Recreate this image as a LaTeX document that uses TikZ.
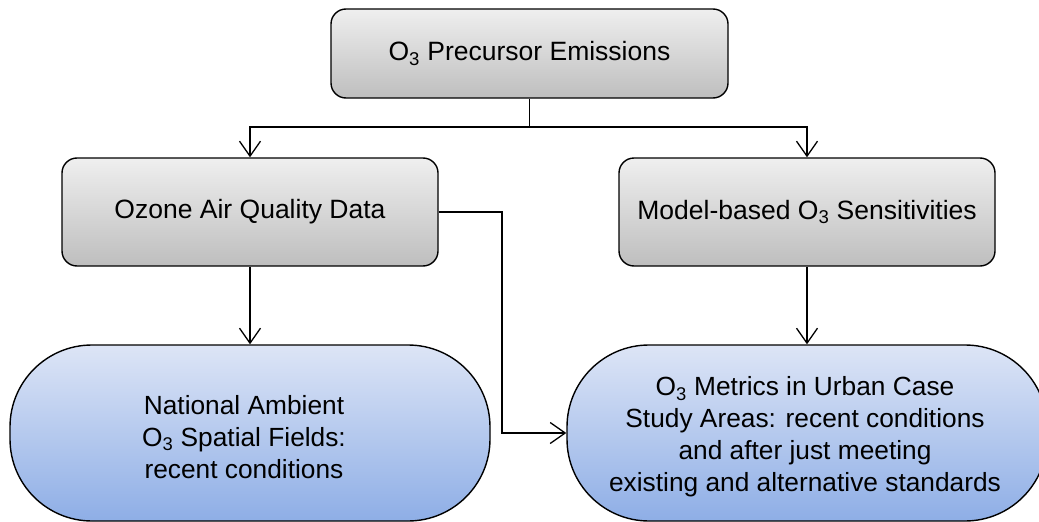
\documentclass[tikz,border=0pt]{standalone}
\usepackage{fontspec}
\setmainfont{Liberation Sans}
\usetikzlibrary{arrows.meta}
\definecolor{gtop}{HTML}{EFEFEF}
\definecolor{gbot}{HTML}{BEBEBE}
\definecolor{btop}{HTML}{DDE5F6}
\definecolor{bbot}{HTML}{8EAEE6}
\tikzset{
  graybox/.style={draw=black, line width=1.4pt, rounded corners=15pt,
    top color=gtop, bottom color=gbot, inner sep=0pt, align=center,
    font=\fontsize{26.5}{32}\selectfont},
  bluebox/.style={draw=black, line width=1.4pt, rounded corners=82pt,
    top color=btop, bottom color=bbot, inner sep=0pt},
  txt/.style={align=center, inner sep=0pt, font=\fontsize{26.3}{32}\selectfont},
  conn/.style={draw=black, line width=1.5pt},
  arr/.style={conn, -{Straight Barb[length=15pt,width=21pt,line width=1.3pt]}}
}
\begin{document}
\begin{tikzpicture}[x=1pt,y=-1pt]
\useasboundingbox (0,0) rectangle (1039,522);
\clip (0,0) rectangle (1039,522);
\node[graybox, minimum width=397pt, minimum height=89pt] (top) at (529.5,53.5) {O\textsubscript{3} Precursor Emissions};
\node[graybox, minimum width=376pt, minimum height=108pt] (ozone) at (250,212) {Ozone Air Quality Data};
\node[graybox, minimum width=376pt, minimum height=108pt] (model) at (807,212) {Model-based O\textsubscript{3} Sensitivities};
\node[bluebox, minimum width=480pt, minimum height=176pt] (natl) at (250,433) {};
\node[bluebox, minimum width=480pt, minimum height=176pt] (metrics) at (807,433) {};
\node[txt] (natltext) at (244,437) {National Ambient\\O\textsubscript{3} Spatial Fields:\\recent conditions};
\node[txt] (metricstext) at (805,437) {O\textsubscript{3} Metrics in Urban Case\\Study Areas: recent conditions\\and after just meeting\\existing and alternative standards};
\coordinate (j) at (529.5,127);
\coordinate (bend) at (502,212);
\draw[conn] (top.south) -- (j);
\draw[arr] (j) -| (ozone.north);
\draw[arr] (j) -| (model.north);
\draw[arr] (ozone.south) -- (natl.north);
\draw[arr] (model.south) -- (metrics.north);
\draw[arr] (ozone.east) -- (bend) |- (metrics.west);
\end{tikzpicture}
\end{document}
